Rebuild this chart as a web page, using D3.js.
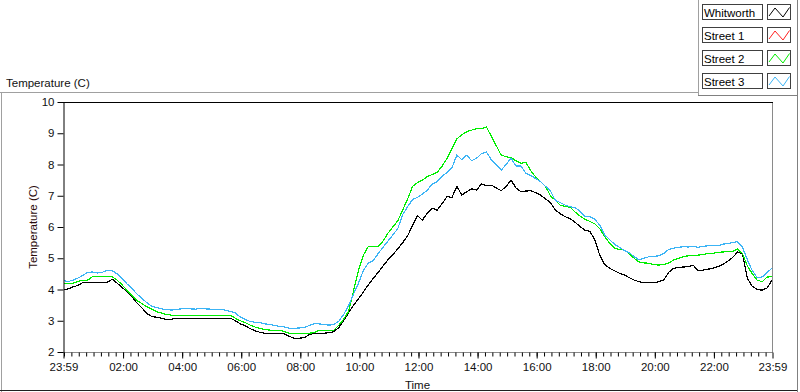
<!DOCTYPE html>
<html>
<head>
<meta charset="utf-8">
<script src="https://cdn.jsdelivr.net/npm/d3@7"></script>
<style>
  body { margin: 0; background: #fff; }
  svg { display: block; font-family: "Liberation Sans", Arial, sans-serif; }
</style>
</head>
<body>
<div id="chart"></div>
<script>
// samples every 10 minutes, starting at 23:59 of the previous day
const sampleStep = 10;

const seriesNames = ["Whitworth", "Street 1", "Street 2", "Street 3"];
const seriesColors = ["#000000", "#ff2020", "#00ee00", "#3cb4f5"];

const whitworth = [
  3.98, 4.02, 4.08, 4.13, 4.22, 4.23, 4.23, 4.23, 4.23, 4.23,
  4.33, 4.2, 4.07, 3.92, 3.77, 3.57, 3.42, 3.23, 3.14, 3.11,
  3.08, 3.04, 3.05, 3.08, 3.08, 3.08, 3.08, 3.08, 3.08, 3.08,
  3.08, 3.08, 3.08, 3.08, 3.08, 3.0, 2.9, 2.84, 2.75, 2.68,
  2.63, 2.6, 2.6, 2.6, 2.6, 2.58, 2.5, 2.44, 2.44, 2.46,
  2.55, 2.6, 2.6, 2.6, 2.62, 2.65, 2.78, 3.0, 3.26, 3.5,
  3.7, 3.92, 4.15, 4.35, 4.55, 4.75, 4.95, 5.12, 5.3, 5.5,
  5.72, 6.05, 6.36, 6.22, 6.45, 6.6, 6.54, 6.75, 6.97, 6.95,
  7.3, 7.02, 7.13, 7.22, 7.18, 7.38, 7.32, 7.34, 7.25, 7.16,
  7.3, 7.5, 7.25, 7.13, 7.15, 7.16, 7.1, 7.02, 6.9, 6.78,
  6.55, 6.42, 6.33, 6.27, 6.15, 6.02, 5.9, 5.86, 5.6, 5.1,
  4.8, 4.68, 4.6, 4.52, 4.47, 4.38, 4.3, 4.25, 4.22, 4.22,
  4.22, 4.25, 4.3, 4.55, 4.68, 4.7, 4.72, 4.73, 4.78, 4.6,
  4.62, 4.65, 4.68, 4.73, 4.8, 4.9, 5.02, 5.2, 5.15, 4.35,
  4.1, 4.0, 3.98, 4.05, 4.3
];

const street2 = [
  4.2, 4.2, 4.2, 4.25, 4.3, 4.3, 4.41, 4.41, 4.41, 4.41,
  4.41, 4.3, 4.15, 3.97, 3.82, 3.65, 3.55, 3.45, 3.37, 3.29,
  3.25, 3.2, 3.18, 3.18, 3.18, 3.18, 3.18, 3.18, 3.18, 3.18,
  3.18, 3.18, 3.18, 3.18, 3.18, 3.08, 3.0, 2.94, 2.86, 2.8,
  2.75, 2.72, 2.7, 2.7, 2.7, 2.65, 2.6, 2.6, 2.6, 2.6,
  2.6, 2.62, 2.7, 2.7, 2.7, 2.7, 2.85, 3.05, 3.3, 3.95,
  4.6, 5.1, 5.37, 5.37, 5.37, 5.55, 5.8, 6.0, 6.2, 6.55,
  6.9, 7.3, 7.42, 7.5, 7.62, 7.68, 7.75, 7.95, 8.2, 8.5,
  8.82, 8.95, 9.05, 9.1, 9.15, 9.15, 9.2, 8.9, 8.6, 8.3,
  8.25, 8.22, 8.12, 8.04, 8.07, 7.8, 7.6, 7.45, 7.3, 7.0,
  6.85, 6.7, 6.66, 6.63, 6.48, 6.35, 6.25, 6.18, 6.1, 5.95,
  5.7, 5.48, 5.33, 5.28, 5.26, 5.15, 5.0, 4.88, 4.85, 4.84,
  4.8, 4.78, 4.8, 4.85, 4.94, 5.0, 5.05, 5.08, 5.1, 5.1,
  5.12, 5.15, 5.16, 5.19, 5.2, 5.21, 5.22, 5.3, 5.15, 4.75,
  4.5, 4.3, 4.25, 4.4, 4.41
];

// Street 1 is not visible in the picture: it sits under Street 2
const street1 = street2.slice();

const street3 = [
  4.3, 4.25, 4.3, 4.36, 4.45, 4.55, 4.56, 4.53, 4.55, 4.62,
  4.6, 4.5, 4.35, 4.18, 4.03, 3.86, 3.72, 3.58, 3.47, 3.42,
  3.38, 3.36, 3.34, 3.36, 3.38, 3.4, 3.38, 3.37, 3.4, 3.38,
  3.37, 3.36, 3.37, 3.34, 3.3, 3.25, 3.12, 3.04, 2.98, 2.95,
  2.94, 2.9, 2.88, 2.85, 2.82, 2.8, 2.76, 2.76, 2.77, 2.78,
  2.85, 2.9, 2.9, 2.88, 2.86, 2.88, 2.98, 3.2, 3.48, 3.85,
  4.2, 4.6, 4.85, 4.92, 5.15, 5.35, 5.55, 5.75, 5.95, 6.4,
  6.65, 6.88, 6.95, 7.05, 7.18, 7.38, 7.45, 7.62, 7.75, 7.9,
  8.3, 8.15, 8.3, 8.12, 8.2, 8.35, 8.4, 8.15, 8.0, 7.82,
  8.0, 8.2, 7.95, 7.95, 7.72, 7.65, 7.55, 7.45, 7.3, 7.15,
  6.85, 6.78, 6.7, 6.65, 6.62, 6.5, 6.35, 6.33, 6.25, 6.06,
  5.75, 5.6, 5.45, 5.35, 5.25, 5.18, 5.05, 4.95, 5.0, 5.05,
  5.06, 5.08, 5.15, 5.28, 5.32, 5.35, 5.37, 5.36, 5.38, 5.35,
  5.38, 5.4, 5.42, 5.4, 5.45, 5.47, 5.5, 5.53, 5.35, 4.95,
  4.6, 4.38, 4.4, 4.55, 4.68
];

const seriesValues = [whitworth, street1, street2, street3];

// x ticks, minutes after 23:59
const xTickMinutes = [0, 121, 241, 361, 481, 601, 721, 841, 961, 1081, 1201, 1321, 1440];
const xTickLabels = ["23:59", "02:00", "04:00", "06:00", "08:00", "10:00", "12:00",
                     "14:00", "16:00", "18:00", "20:00", "22:00", "23:59"];
const yTicks = [2, 3, 4, 5, 6, 7, 8, 9, 10];

const W = 800, H = 392;
const plot = {left: 63, right: 772, top: 102, bottom: 352};

const svg = d3.select("#chart").append("svg")
  .attr("width", W).attr("height", H);

// ---------------- frames ----------------
svg.append("line").attr("x1", 0).attr("x2", 698).attr("y1", 92.5).attr("y2", 92.5)
  .attr("stroke", "#a0a0a0");
svg.append("line").attr("x1", 1.5).attr("x2", 1.5).attr("y1", 92).attr("y2", 392)
  .attr("stroke", "#a0a0a0");
svg.append("line").attr("x1", 0).attr("x2", 798).attr("y1", 390.5).attr("y2", 390.5)
  .attr("stroke", "#202020");
svg.append("line").attr("x1", 797.5).attr("x2", 797.5).attr("y1", 0).attr("y2", 392)
  .attr("stroke", "#808080");
// legend panel
svg.append("line").attr("x1", 698.5).attr("x2", 698.5).attr("y1", 0).attr("y2", 95)
  .attr("stroke", "#a0a0a0");
svg.append("line").attr("x1", 698).attr("x2", 798).attr("y1", 95.5).attr("y2", 95.5)
  .attr("stroke", "#808080");

svg.append("text").attr("x", 6).attr("y", 86.5)
  .style("font-size", "11.5px").attr("fill", "#111").text("Temperature (C)");

// ---------------- scales ----------------
const x = d3.scaleLinear().domain([0, 1440]).range([plot.left, plot.right]);
const y = d3.scaleLinear().domain([2, 10]).range([plot.bottom, plot.top]);

// plot background + borders
svg.append("rect").attr("x", plot.left).attr("y", plot.top)
  .attr("width", plot.right - plot.left).attr("height", plot.bottom - plot.top)
  .attr("fill", "#fff");
svg.append("line").attr("x1", plot.left).attr("x2", plot.right + 1)
  .attr("y1", plot.bottom + 0.5).attr("y2", plot.bottom + 0.5).attr("stroke", "#8a8a8a");
svg.append("line").attr("x1", plot.right + 0.5).attr("x2", plot.right + 0.5)
  .attr("y1", plot.top).attr("y2", plot.bottom + 1).attr("stroke", "#8a8a8a");

// ---------------- lines ----------------
svg.append("clipPath").attr("id", "clip").append("rect")
  .attr("x", plot.left + 1).attr("y", plot.top)
  .attr("width", plot.right - plot.left).attr("height", plot.bottom - plot.top);

const line = d3.line()
  .x((d, i) => x(i * sampleStep))
  .y(d => y(d));

svg.append("g").attr("clip-path", "url(#clip)")
  .selectAll("path")
  .data(seriesValues)
  .enter()
  .append("path")
  .attr("d", d => line(d))
  .attr("fill", "none")
  .attr("stroke", (d, i) => seriesColors[i])
  .attr("stroke-width", 1.2)
  .style("shape-rendering", "crispEdges");

// top border + y axis in black
svg.append("line").attr("x1", plot.left).attr("x2", plot.right + 1)
  .attr("y1", plot.top + 0.5).attr("y2", plot.top + 0.5).attr("stroke", "#000");

const yAxis = svg.append("g")
  .attr("transform", `translate(${plot.left + 0.5},0)`)
  .call(d3.axisLeft(y).tickValues(yTicks).tickSize(6).tickPadding(3).tickSizeOuter(0));
yAxis.select(".domain").attr("stroke", "#000");
yAxis.selectAll("text").style("font-size", "11.5px").attr("fill", "#111");

// x axis: minor ticks every 15 min, major every 2 h
const minorTicks = d3.range(1, 1440, 15);
svg.append("g")
  .attr("transform", `translate(0.5,${plot.bottom + 0.5})`)
  .call(d3.axisBottom(x).tickValues(minorTicks).tickSize(4).tickFormat(""))
  .call(g => g.select(".domain").remove());

const xAxis = svg.append("g")
  .attr("transform", `translate(0.5,${plot.bottom + 0.5})`)
  .call(d3.axisBottom(x).tickValues(xTickMinutes).tickSize(6).tickPadding(4)
    .tickFormat((d, i) => xTickLabels[i]));
xAxis.select(".domain").remove();
xAxis.selectAll("text").style("font-size", "11.5px").attr("fill", "#111");

svg.append("text").attr("x", (plot.left + plot.right) / 2).attr("y", 389)
  .attr("text-anchor", "middle").style("font-size", "11.5px").attr("fill", "#111").text("Time");

svg.append("text")
  .attr("transform", `translate(37,${(plot.top + plot.bottom) / 2}) rotate(-90)`)
  .attr("text-anchor", "middle").style("font-size", "11.5px").attr("fill", "#2a0a0a")
  .text("Temperature (C)");

// ---------------- legend ----------------
const legend = svg.append("g");
seriesNames.forEach((name, i) => {
  const top = 4 + i * 23;
  legend.append("rect").attr("x", 702.5).attr("y", top + 0.5).attr("width", 60).attr("height", 15)
    .attr("fill", "#fff").attr("stroke", "#404040");
  legend.append("text").attr("x", 704).attr("y", top + 12.5)
    .style("font-size", "11.5px").attr("fill", "#000").text(name);
  legend.append("rect").attr("x", 767.5).attr("y", top + 0.5).attr("width", 23).attr("height", 15)
    .attr("fill", "#fff").attr("stroke", "#404040");
  const zig = [[769, top + 12], [775, top + 4], [783, top + 13], [789.5, top + 3.5]];
  legend.append("path").attr("d", d3.line()(zig))
    .attr("fill", "none").attr("stroke", seriesColors[i]).attr("stroke-width", 1);
});
</script>
</body>
</html>
